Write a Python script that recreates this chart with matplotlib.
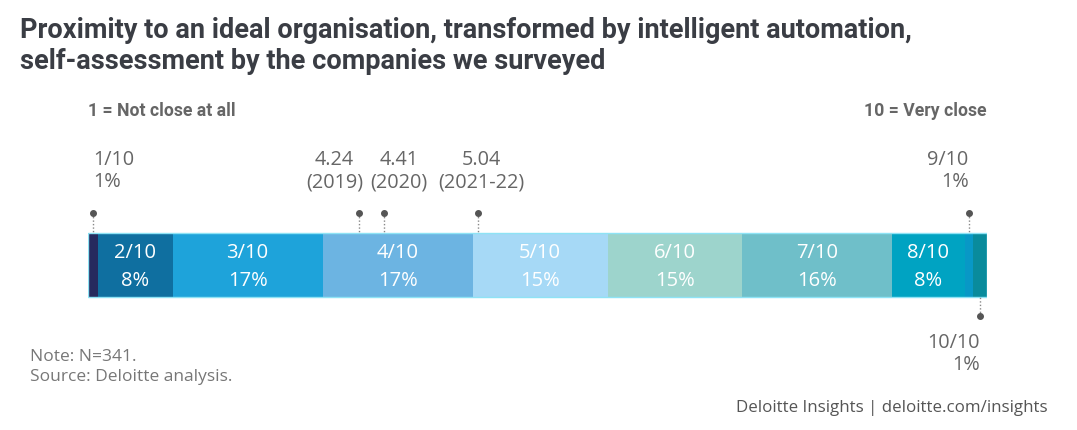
import matplotlib.pyplot as plt
from matplotlib.patches import Rectangle

# Data
scores = ['1/10', '2/10', '3/10', '4/10', '5/10', '6/10', '7/10', '8/10', '9/10', '10/10']
shares = [1.1, 8.3, 16.7, 16.7, 15.0, 15.0, 16.6, 8.1, 0.9, 1.6]   # bar widths (%)
share_labels = ['1%', '8%', '17%', '17%', '15%', '15%', '16%', '8%', '1%', '1%']
colors = ['#262a5e', '#0f6fa0', '#1ea3da', '#6cb4e2', '#a6d9f6',
          '#9dd4cc', '#6fbfc9', '#00a3c2', '#0898c6', '#098b9c']
avg_scores = [4.24, 4.41, 5.04]
avg_years = ['(2019)', '(2020)', '(2021-22)']

plt.rcParams['font.family'] = ['Open Sans', 'DejaVu Sans']
title_font = ['Roboto', 'DejaVu Sans']

W, H = 1077, 430
fig = plt.figure(figsize=(W / 100, H / 100), dpi=100)
ax = fig.add_axes([88 / W, 0, 899 / W, 1])
ax.set_xlim(0, sum(shares))
ax.set_ylim(H, 0)
ax.axis('off')

bar_top, bar_h = 233, 64
starts = [sum(shares[:i]) for i in range(len(shares))]
for i, (s, w) in enumerate(zip(starts, shares)):
    ax.barh(bar_top + bar_h / 2, w, left=s, height=bar_h, color=colors[i], linewidth=0)
    if w > 5:
        ax.text(s + w / 2, 253, scores[i], ha='center', va='center', color='white', fontsize=14.5)
        ax.text(s + w / 2, 281, share_labels[i], ha='center', va='center', color='white', fontsize=14.5)
ax.add_patch(Rectangle((0, bar_top), sum(shares), bar_h, fill=False, edgecolor='#8ee3f5', linewidth=1))

grey = '#666666'
lab_fs = 14.3
def marker(x, y0, y1):
    ax.plot([x, x], [y0, y1], color='#888888', lw=1, ls=(0, (1, 1.5)))
    ax.plot(x, y0, 'o', color='#555555', ms=4)

# small segments labelled outside
c1 = starts[0] + shares[0] / 2
marker(c1, 213, bar_top)
ax.text(c1, 171, scores[0] + '\n' + share_labels[0], ha='left', va='center', color=grey,
        fontsize=lab_fs, linespacing=1.18)
c9 = starts[8] + shares[8] / 2
marker(c9, 213, bar_top)
ax.text(c9, 171, scores[8] + '\n' + share_labels[8], ha='right', va='center', color=grey,
        fontsize=lab_fs, linespacing=1.18, multialignment='right')
c10 = starts[9] + shares[9] / 2
marker(c10, 316, bar_top + bar_h)
ax.text(c10, 354, scores[9] + '\n' + share_labels[9], ha='right', va='center', color=grey,
        fontsize=lab_fs, linespacing=1.18, multialignment='right')

# average scores, labels nudged apart so they do not collide
offsets = [-24, 15, 3]
for sc, yr, off in zip(avg_scores, avg_years, offsets):
    k = int(sc)
    x = starts[k - 1] + (sc - k) * shares[k - 1]
    marker(x, 213, bar_top)
    ax.annotate(f'{sc:.2f}\n{yr}', (x, 171), xytext=(off * 0.72, 0), textcoords='offset points',
                ha='center', va='center', color=grey, fontsize=lab_fs, linespacing=1.18)

# titles and notes
fig.text(20 / W, 1 - 46 / H, 'Proximity to an ideal organisation, transformed by intelligent automation,\n'
         'self-assessment by the companies we surveyed', family=title_font, weight='bold',
         fontsize=19.5, color='#3a3d44', va='center', linespacing=1.2)
fig.text(88 / W, 1 - 111 / H, '1 = Not close at all', family=title_font, weight='bold',
         fontsize=12.7, color=grey, va='center')
fig.text(987 / W, 1 - 111 / H, '10 = Very close', family=title_font, weight='bold',
         fontsize=12.7, color=grey, va='center', ha='right')
fig.text(30 / W, 1 - 367 / H, 'Note: N=341.\nSource: Deloitte analysis.', fontsize=12.5,
         color='#777777', va='center', linespacing=1.4)
fig.text(1048 / W, 1 - 408 / H, 'Deloitte Insights | deloitte.com/insights', fontsize=12.2,
         color='#555555', va='center', ha='right')

fig.savefig('out.png', dpi=100)
